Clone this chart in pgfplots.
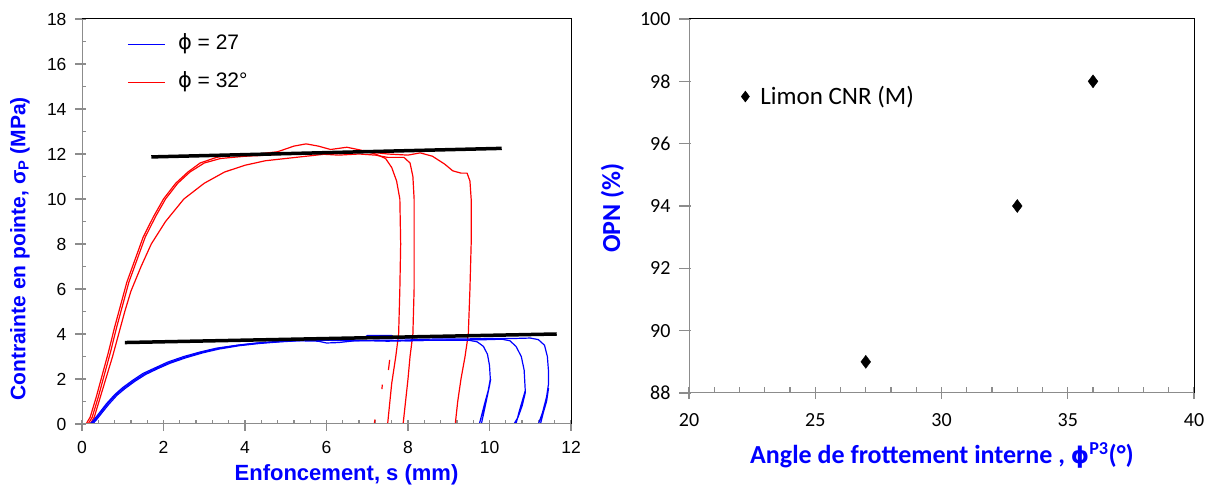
\documentclass[border=0pt]{standalone}
\usepackage{pgfplots}
\pgfplotsset{compat=1.18}
\usepackage{fontspec}
\setmainfont{Liberation Sans}
\newfontfamily\carl{Carlito}
\newfontfamily\dv{DejaVu Sans}
\definecolor{pblue}{RGB}{0,0,255}
\definecolor{pred}{RGB}{255,0,0}
\definecolor{axgray}{RGB}{140,140,140}
\begin{document}
\begin{tikzpicture}[x=1pt,y=1pt]
\path[use as bounding box] (0,0) rectangle (1207,486);
% ---------------- left chart ----------------
\begin{axis}[at={(82pt,62pt)}, anchor=south west,
  width=489pt, height=405pt, scale only axis,
  xmin=0, xmax=12, ymin=0, ymax=18,
  xtick={0,2,...,12}, ytick={0,2,...,18},
  minor x tick num=4, minor y tick num=1,
  tick pos=left, tick align=inside,
  major tick length=11pt, minor tick length=4.3pt,
  every major x tick/.append style={yshift=-6.7pt},
  every major y tick/.append style={xshift=-6.7pt},
  tick style={axgray, line width=1.3pt},
  axis line style={black, line width=1pt},
  /pgf/number format/assume math mode=true,
  tick label style={font=\fontsize{17.5}{20}\selectfont},
  xticklabel style={yshift=-14pt},
  yticklabel style={xshift=-12pt},
]
% red curves
\addplot[draw=red, line width=1.2pt, line join=round] coordinates {
(0.1,0) (0.2,0.3) (0.35,1.2) (0.5,2.2) (0.65,3.2) (0.8,4.3) (0.95,5.3) (1.1,6.3) (1.3,7.3) (1.5,8.3) (1.75,9.2) (2.0,10.0) (2.3,10.7) (2.6,11.2) (2.9,11.6) (3.3,11.85) (3.8,12.0) (4.3,12.0) (4.8,12.1) (5.2,12.35) (5.5,12.45) (5.8,12.35) (6.1,12.2) (6.5,12.3) (6.9,12.15) (7.2,12.0) (7.45,11.8) (7.6,11.4) (7.72,10.8) (7.8,10.0) (7.82,8.0) (7.8,6.0) (7.77,4.0) (7.7,3.0) (7.6,1.8) (7.5,0)};
\addplot[draw=red, line width=1.2pt, line join=round] coordinates {
(0.15,0) (0.25,0.3) (0.4,1.2) (0.55,2.2) (0.7,3.2) (0.85,4.3) (1.0,5.3) (1.15,6.3) (1.35,7.3) (1.55,8.3) (1.8,9.2) (2.05,10.0) (2.35,10.7) (2.65,11.2) (3.0,11.6) (3.4,11.8) (4.0,11.9) (4.6,11.95) (5.2,12.05) (5.8,12.0) (6.3,11.95) (6.8,12.0) (7.2,11.95) (7.5,11.85) (7.9,11.85) (8.05,11.6) (8.12,11.0) (8.15,10.0) (8.15,6.0) (8.12,4.0) (8.05,3.0) (8.0,2.0) (7.88,0)};
\addplot[draw=red, line width=1.2pt, line join=round] coordinates {
(0.2,0) (0.3,0.3) (0.45,1.2) (0.6,2.1) (0.75,3.0) (0.9,4.0) (1.05,5.0) (1.2,5.9) (1.45,7.0) (1.7,8.0) (2.05,9.0) (2.5,10.0) (3.0,10.7) (3.5,11.2) (4.0,11.5) (4.5,11.7) (5.0,11.8) (5.5,11.9) (6.0,12.0) (6.5,12.05) (7.0,12.1) (7.5,12.0) (8.0,11.95) (8.3,12.05) (8.6,11.9) (8.9,11.55) (9.1,11.25) (9.3,11.15) (9.45,11.15) (9.52,10.8) (9.55,10.0) (9.55,8.0) (9.52,6.0) (9.48,4.0) (9.4,3.0) (9.3,2.0) (9.22,1.0) (9.16,0)};
\addplot[draw=red, line width=1.2pt] coordinates {(7.55,2.85) (7.52,2.4)};
\addplot[draw=red, line width=1.2pt] coordinates {(7.37,1.75) (7.36,1.55)};
\addplot[draw=red, line width=1.2pt] coordinates {(7.17,0) (7.19,0.2)};
% blue curves
\addplot[draw=blue, line width=1.2pt, line join=round] coordinates {
(0.2,0) (0.3,0.2) (0.45,0.55) (0.6,0.9) (0.8,1.3) (1.0,1.62) (1.25,1.95) (1.5,2.25) (1.8,2.5) (2.1,2.75) (2.5,3.0) (2.9,3.2) (3.3,3.37) (3.8,3.5) (4.3,3.6) (4.8,3.67) (5.3,3.7) (5.8,3.68) (6.0,3.6) (6.3,3.62) (6.7,3.7) (7.2,3.72) (7.6,3.72) (8.0,3.7) (8.5,3.72) (9.0,3.72) (9.5,3.72) (9.7,3.65) (9.85,3.45) (9.95,3.1) (10.0,2.6) (10.02,2.0) (9.97,1.5) (9.88,0.9) (9.78,0.2) (9.75,0) (9.8,0) (9.86,0.5) (9.93,1.1) (10.0,1.7) (10.03,2.0)};
\addplot[draw=blue, line width=1.2pt, line join=round] coordinates {
(0.23,0) (0.33,0.2) (0.48,0.55) (0.63,0.9) (0.83,1.3) (1.03,1.6) (1.28,1.93) (1.53,2.22) (1.83,2.48) (2.13,2.72) (2.53,2.97) (2.93,3.18) (3.33,3.35) (3.83,3.5) (4.33,3.6) (4.83,3.66) (5.3,3.72) (6.0,3.72) (6.5,3.7) (7.0,3.7) (7.5,3.68) (8.0,3.7) (8.5,3.72) (9.0,3.73) (9.5,3.74) (10.0,3.75) (10.3,3.77) (10.5,3.7) (10.65,3.45) (10.78,3.0) (10.85,2.4) (10.88,1.4) (10.8,0.8) (10.7,0.3) (10.6,0) (10.65,0) (10.72,0.5) (10.8,1.0) (10.88,1.5)};
\addplot[draw=blue, line width=1.2pt, line join=round] coordinates {
(0.26,0) (0.36,0.2) (0.5,0.52) (0.66,0.88) (0.86,1.28) (1.06,1.58) (1.3,1.9) (1.56,2.2) (1.86,2.46) (2.16,2.7) (2.56,2.95) (2.96,3.16) (3.36,3.33) (3.86,3.48) (4.36,3.58) (4.86,3.65) (5.3,3.7) (5.8,3.74) (6.4,3.75) (6.9,3.8) (7.0,3.93) (7.6,3.93) (7.7,3.8) (8.2,3.76) (8.8,3.78) (9.4,3.78) (10.0,3.8) (10.6,3.8) (11.0,3.82) (11.2,3.75) (11.35,3.5) (11.42,3.0) (11.45,2.3) (11.45,1.8) (11.4,1.2) (11.3,0.5) (11.2,0) (11.25,0) (11.32,0.5) (11.4,1.0) (11.45,1.6)};
% trend lines
\addplot[black, line width=3.5pt] coordinates {(1.7,11.87) (10.3,12.25)};
\addplot[black, line width=3.5pt] coordinates {(1.05,3.62) (11.65,4.0)};
\draw[axgray, line width=1.5pt] (rel axis cs:0,1) -- (rel axis cs:0,0) -- (rel axis cs:1,0);
% legend (manual)
\draw[blue, line width=1.1pt] (rel axis cs:0.094,0.938) -- (rel axis cs:0.170,0.938);
\draw[red, line width=1.2pt] (rel axis cs:0.094,0.844) -- (rel axis cs:0.170,0.844);
\node[anchor=west, inner sep=0pt, font=\fontsize{21}{25}\selectfont] at (rel axis cs:0.196,0.94) {{\dv ϕ} = 27};
\node[anchor=west, inner sep=0pt, font=\fontsize{21}{25}\selectfont] at (rel axis cs:0.196,0.846) {{\dv ϕ} = 32°};
\end{axis}
% ---------------- right chart ----------------
\begin{axis}[at={(689pt,93pt)}, anchor=south west,
  width=505pt, height=374pt, scale only axis,
  xmin=20, xmax=40, ymin=88, ymax=100,
  xtick={20,25,...,40}, ytick={88,90,...,100},
  minor x tick num=4,
  tick pos=left, tick align=inside,
  major tick length=12pt, minor tick length=6pt,
  every major x tick/.append style={yshift=-6pt},
  every major y tick/.append style={xshift=-10pt},
  tick style={axgray, line width=1.3pt},
  axis line style={black, line width=1pt},
  /pgf/number format/assume math mode=true,
  tick label style={font=\carl\fontsize{20}{24}\selectfont},
  xticklabel style={yshift=-17pt},
  yticklabel style={xshift=-15pt},
  legend style={draw=none, fill=none, at={(rel axis cs:0.103,0.825)}, anchor=north west,
     font=\carl\fontsize{25}{30}\selectfont, inner sep=0pt},
  legend image code/.code={\draw[#1, mark size=5.5pt] plot coordinates {(3pt,0pt)};},
]
\addplot[only marks, mark=diamond*, mark size=6.5pt, black, fill=black] coordinates {(27,89) (33,94) (36,98)};
\addlegendentry{\hspace{9pt}Limon CNR (M)}
\draw[axgray, line width=1.5pt] (rel axis cs:0,1) -- (rel axis cs:0,0) -- (rel axis cs:1,0);
\end{axis}
% ---------------- axis labels ----------------
\node[rotate=90, text=pblue, font=\bfseries\fontsize{21}{25}\selectfont] at (20,237) {Contrainte en pointe, σ\textsubscript{P} (MPa)};
\node[text=pblue, font=\bfseries\fontsize{22}{26}\selectfont] at (346.5,11) {Enfoncement, s (mm)};
\node[text=pblue, font=\carl\bfseries\fontsize{26}{30}\selectfont] at (942,31) {Angle de frottement interne , {\dv\fontsize{23}{27}\selectfont ϕ}\textsuperscript{P3}(°)};
\node[rotate=90, text=pblue, font=\carl\bfseries\fontsize{26}{30}\selectfont] at (612.5,278) {OPN (\%)};
\end{tikzpicture}
\end{document}
